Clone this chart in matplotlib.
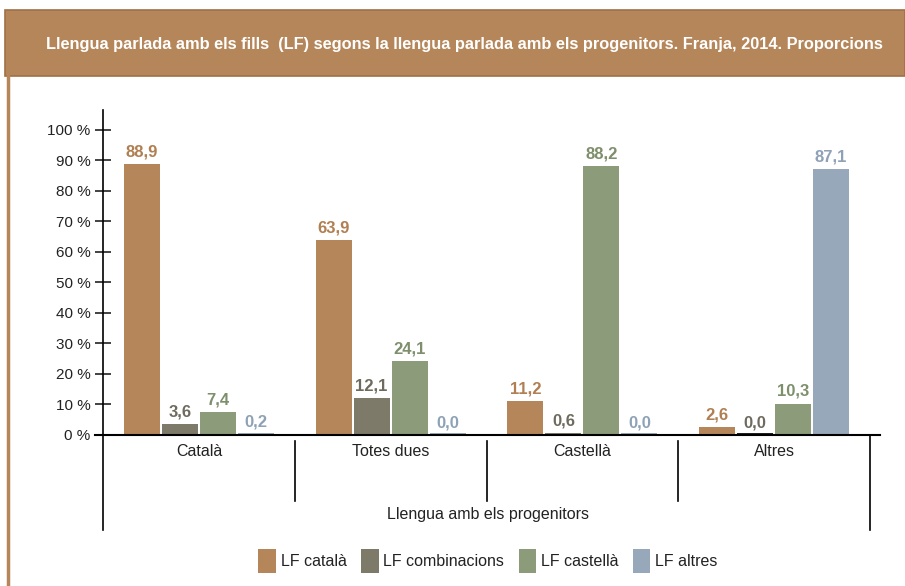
import matplotlib
matplotlib.use("Agg")
import matplotlib.pyplot as plt
from matplotlib.patches import Rectangle, Patch
from matplotlib.lines import Line2D
import numpy as np

categories = ["Català", "Totes dues", "Castellà", "Altres"]
series_names = ["LF català", "LF combinacions", "LF castellà", "LF altres"]
lf_catala = [88.9, 63.9, 11.2, 2.6]
lf_combinacions = [3.6, 12.1, 0.6, 0.0]
lf_castella = [7.4, 24.1, 88.2, 10.3]
lf_altres = [0.2, 0.0, 0.0, 87.1]
yticks = [0, 10, 20, 30, 40, 50, 60, 70, 80, 90, 100]
title = "Llengua parlada amb els fills  (LF) segons la llengua parlada amb els progenitors. Franja, 2014. Proporcions"
xlabel = "Llengua amb els progenitors"

colors = ["#B5865A", "#7D7A6A", "#8C9C7A", "#97A8BA"]
label_colors = ["#B07F52", "#6E6B5E", "#7E8F6C", "#8EA1B6"]

plt.rcParams['font.family'] = ['Liberation Sans', 'DejaVu Sans']

W, H = 905, 586
fig = plt.figure(figsize=(W / 100, H / 100), dpi=100)

def fx(px):
    return px / W

def fy(py):
    return 1 - py / H

# header band
fig.patches.append(Rectangle((fx(5), fy(76)), fx(905) - fx(5), fy(10) - fy(76),
                             transform=fig.transFigure, facecolor="#B5865A",
                             edgecolor="#A07048", linewidth=1.2, zorder=0))
fig.text(fx(464), fy(44), title, color="white", fontsize=11.8, fontweight="bold",
         ha="center", va="center")
# left border
fig.add_artist(Line2D([fx(8), fx(8)], [fy(76), fy(586)], transform=fig.transFigure,
                      color="#B5865A", linewidth=2.5))

ax = fig.add_axes([fx(103), fy(435), fx(870) - fx(103), fy(110) - fy(435)])
ax.set_xlim(-0.5, 3.5)
ax.set_ylim(0, 106.5)
for s in ax.spines.values():
    s.set_visible(False)

x = np.arange(len(categories))
data = [lf_catala, lf_combinacions, lf_castella, lf_altres]
bw = 0.188
gap = 0.01
offsets = [(i - 1.5) * (bw + gap) for i in range(4)]
for i, vals in enumerate(data):
    ax.bar(x + offsets[i], vals, width=bw, color=colors[i], zorder=2)
    for j, v in enumerate(vals):
        ax.text(x[j] + offsets[i], v + 1.5, f"{v:.1f}".replace(".", ","),
                ha="center", va="bottom", color=label_colors[i],
                fontsize=12, fontweight="bold")
        if v == 0 and i == 1:
            ax.bar(x[j] + offsets[i], 0.6, width=bw, color="#222222", zorder=2)
        elif v < 0.5:
            ax.bar(x[j] + offsets[i], 0.5, width=bw, color=colors[i], zorder=2)

ax.set_yticks(yticks)
ax.set_yticklabels([f"{t} %" for t in yticks], fontsize=11, color="#333333")
ax.tick_params(axis="y", direction="inout", length=12, width=1.2, pad=3, colors="#222222")
ax.set_xticks([])

# axis lines
fig.add_artist(Line2D([fx(103), fx(103)], [fy(110), fy(530)], transform=fig.transFigure,
                      color="black", linewidth=1.2))
fig.add_artist(Line2D([fx(95), fx(880)], [fy(435), fy(435)], transform=fig.transFigure,
                      color="black", linewidth=1.5))
fig.add_artist(Line2D([fx(870), fx(870)], [fy(435), fy(530)], transform=fig.transFigure,
                      color="black", linewidth=1.2))
for xb in [0.5, 1.5, 2.5]:
    ax.plot([xb, xb], [-2, -2 - 60 / 3.05], color="black", linewidth=1.2, clip_on=False)

for j, c in enumerate(categories):
    ax.text(x[j], -16 / 3.05, c, ha="center", va="center", fontsize=11.5, color="#222222")
fig.text(fx(488), fy(515), xlabel, ha="center", va="center", fontsize=11.5, color="#222222")

handles = [Patch(facecolor=colors[i], edgecolor="none") for i in range(4)]
fig.legend(handles, series_names, loc="center", bbox_to_anchor=(fx(488), fy(561)),
           ncol=4, frameon=False, fontsize=11.5, handlelength=1.1, handleheight=2.0,
           handletextpad=0.3, columnspacing=0.9, labelcolor="#222222")

fig.savefig("out.png", dpi=100)
